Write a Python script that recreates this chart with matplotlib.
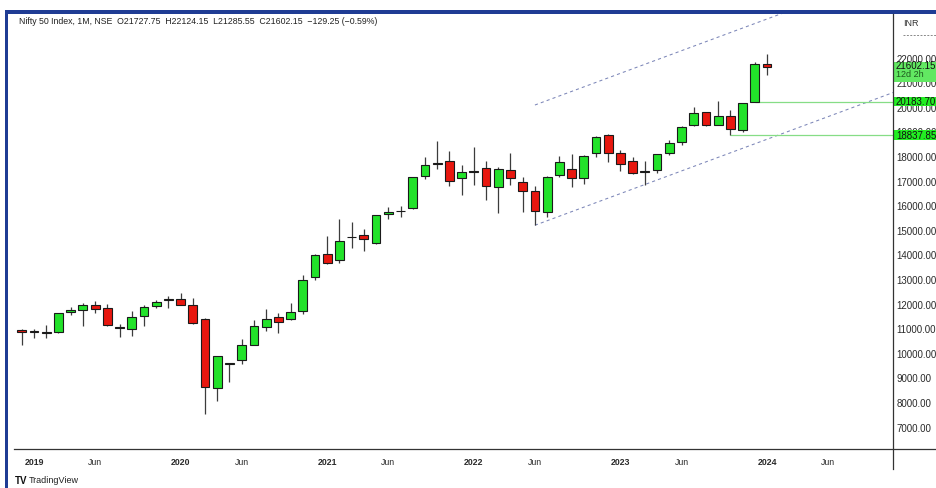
import numpy as np
import matplotlib
matplotlib.use('Agg')
import matplotlib.pyplot as plt
from matplotlib.patches import Rectangle
from matplotlib.lines import Line2D
import matplotlib.transforms as mtransforms

plt.rcParams['font.family'] = ['Liberation Sans', 'DejaVu Sans']

# monthly candles, Dec 2018 .. Jan 2024 (index 0 = Dec 2018)
months = ['2018-12',
          '2019-01', '2019-02', '2019-03', '2019-04', '2019-05', '2019-06',
          '2019-07', '2019-08', '2019-09', '2019-10', '2019-11', '2019-12',
          '2020-01', '2020-02', '2020-03', '2020-04', '2020-05', '2020-06',
          '2020-07', '2020-08', '2020-09', '2020-10', '2020-11', '2020-12',
          '2021-01', '2021-02', '2021-03', '2021-04', '2021-05', '2021-06',
          '2021-07', '2021-08', '2021-09', '2021-10', '2021-11', '2021-12',
          '2022-01', '2022-02', '2022-03', '2022-04', '2022-05', '2022-06',
          '2022-07', '2022-08', '2022-09', '2022-10', '2022-11', '2022-12',
          '2023-01', '2023-02', '2023-03', '2023-04', '2023-05', '2023-06',
          '2023-07', '2023-08', '2023-09', '2023-10', '2023-11', '2023-12',
          '2024-01']
opens = [10930.70,
         10881.70, 10851.35, 10842.65, 11665.20, 11725.55, 11953.75,
         11839.90, 11060.20, 10960.95, 11515.40, 11886.60, 12137.05,
         12202.15, 11939.00, 11387.35, 8584.10, 9533.50, 9726.85,
         10323.80, 11057.55, 11464.30, 11364.45, 11697.35, 13062.20,
         14018.50, 13758.60, 14702.50, 14798.40, 14481.05, 15629.65,
         15755.05, 15874.90, 17185.60, 17699.60, 17783.15, 17104.40,
         17387.15, 17529.45, 16723.20, 17436.90, 16924.45, 16594.40,
         15703.70, 17243.20, 17485.70, 17102.10, 18130.70, 18871.95,
         18131.70, 17811.60, 17360.10, 17427.95, 18124.80, 18579.40,
         19246.50, 19784.00, 19258.15, 19622.40, 19064.05, 20194.10,
         21727.75]
highs = [10985.15,
         10987.45, 11118.10, 11630.35, 11856.15, 12041.15, 12103.05,
         11981.75, 11181.45, 11694.85, 11945.00, 12158.80, 12293.90,
         12430.50, 12246.70, 11433.00, 9889.05, 9598.85, 10553.15,
         11341.40, 11794.25, 11618.10, 12025.45, 13145.85, 14024.85,
         14753.55, 15431.75, 15336.30, 15044.35, 15606.35, 15915.65,
         15962.25, 17153.50, 17947.65, 18604.45, 18210.15, 17639.50,
         18350.95, 17794.60, 17559.80, 18114.65, 17132.85, 16793.85,
         17172.80, 17992.20, 18096.15, 18022.80, 18816.05, 18887.60,
         18251.95, 17972.20, 17799.95, 18089.15, 18662.45, 19201.70,
         19991.85, 19795.60, 20222.45, 19849.75, 20158.70, 21801.45,
         22124.15]
lows = [10333.85,
        10583.65, 10585.65, 10817.40, 11549.10, 11108.30, 11625.10,
        11106.55, 10637.15, 10670.25, 11090.15, 11802.65, 11832.30,
        11929.60, 11175.05, 7511.10, 8055.80, 8806.75, 9544.35,
        10299.60, 10882.25, 10790.20, 11347.05, 11557.40, 12962.80,
        13596.75, 13661.75, 14264.40, 14151.40, 14416.25, 15450.90,
        15513.45, 15834.65, 17055.05, 17452.90, 16782.40, 16410.20,
        16836.80, 16203.25, 15671.45, 16824.70, 15735.75, 15183.40,
        15511.05, 17154.80, 16747.70, 16855.55, 17959.20, 17774.25,
        17405.55, 17255.20, 16828.35, 17312.75, 18042.40, 18464.55,
        19234.40, 19223.65, 19255.70, 18837.85, 18973.70, 20183.70,
        21285.55]
closes = [10862.55,
          10830.95, 10792.50, 11623.90, 11748.15, 11922.80, 11788.85,
          11118.00, 11023.25, 11474.45, 11877.45, 12056.05, 12168.45,
          11962.10, 11201.75, 8597.75, 9859.90, 9580.30, 10302.10,
          11073.45, 11387.50, 11247.55, 11642.40, 12968.95, 13981.75,
          13634.60, 14529.15, 14690.70, 14631.10, 15582.80, 15721.50,
          15763.05, 17132.20, 17618.15, 17671.65, 16983.20, 17354.05,
          17339.85, 16793.90, 17464.75, 17102.55, 16584.55, 15780.25,
          17158.25, 17759.30, 17094.35, 18012.20, 18758.35, 18105.30,
          17662.15, 17303.95, 17359.75, 18065.00, 18534.40, 19189.05,
          19753.80, 19253.80, 19638.30, 19079.60, 20133.30, 21731.40,
          21602.15]

price_ticks = list(range(7000, 23000, 1000))
time_ticks = [('2019', 2019, 1), ('Jun', 2019, 6), ('2020', 2020, 1), ('Jun', 2020, 6),
              ('2021', 2021, 1), ('Jun', 2021, 6), ('2022', 2022, 1), ('Jun', 2022, 6),
              ('2023', 2023, 1), ('Jun', 2023, 6), ('2024', 2024, 1), ('Jun', 2024, 6)]

# channel drawn from the Jun 2022 low, plus support levels
chan_start = 42
chan_end = 71.5
chan_low0 = 15183.40
chan_high0 = 20071.0
chan_slope = 184.0
level_dec = 20183.70
level_oct = 18837.85
title = 'Nifty 50 Index, 1M, NSE  O21727.75  H22124.15  L21285.55  C21602.15  \u2212129.25 (\u22120.59%)'

W, H = 937, 489
def fx(px):
    return px / W
def fy(py):
    return 1 - py / H

def month_idx(year, month):
    return (year - 2018) * 12 + month - 12

fig = plt.figure(figsize=(W / 100, H / 100), dpi=100)
fig.patch.set_facecolor('white')
ax = fig.add_axes([fx(8), fy(450), fx(893) - fx(8), fy(15) - fy(450)])
ax.set_xlim(-1.13, 71.31)
ax.set_ylim(6090, 23770)
for s in ax.spines.values():
    s.set_visible(False)

green = '#22e22a'
red = '#e8170f'
x = np.arange(len(months))
o = np.array(opens); h = np.array(highs); l = np.array(lows); c = np.array(closes)
up = c >= o
ax.vlines(x, l, h, color='#3c3c3c', lw=0.9, zorder=2)
body = np.maximum(np.abs(c - o), 25)
ax.bar(x, body, bottom=np.minimum(o, c), width=0.72,
       color=np.where(up, green, red), edgecolor='#1a1a1a', linewidth=0.8, zorder=3)

# channel
xs = np.array([chan_start, chan_end])
dash = dict(color='#7c86b8', lw=0.75, ls=(0, (3, 3)), zorder=1)
ax.plot(xs, chan_low0 + chan_slope * (xs - chan_start), **dash)
ax.plot(xs, chan_high0 + chan_slope * (xs - chan_start), **dash)

# support lines
ax.hlines(level_dec, 60, 71.31, color='#86dd86', lw=0.9, zorder=1)
ax.hlines(level_oct, 58, 71.31, color='#86dd86', lw=0.9, zorder=1)

# price axis
ax.yaxis.tick_right()
ax.set_yticks(price_ticks)
ax.set_yticklabels(['%.2f' % v for v in price_ticks])
ax.tick_params(axis='y', length=0, pad=2.5, labelsize=7, labelcolor='#2a2a2a')

# time axis
ax.set_xticks([month_idx(yy, mm) for _, yy, mm in time_ticks])
ax.set_xticklabels([t for t, _, _ in time_ticks])
ax.tick_params(axis='x', length=0, pad=6, labelsize=6.3, labelcolor='#2a2a2a')
for lab in ax.get_xticklabels():
    if lab.get_text() != 'Jun':
        lab.set_fontweight('bold')

# price labels on the axis
bt = mtransforms.blended_transform_factory(ax.transAxes, ax.transData)
bw = 46 / 885
def price_box(y0, y1, fc):
    ax.add_patch(Rectangle((1.0, y0), bw, y1 - y0, transform=bt, facecolor=fc,
                           edgecolor='none', clip_on=False, zorder=5))
price_box(21006, 21831, '#62e862')
ax.text(1 + 3 / 885, 21680, '21602.15', transform=bt, fontsize=7, va='center', color='#111', clip_on=False, zorder=6)
ax.text(1 + 3 / 885, 21340, '12d 2h', transform=bt, fontsize=6.5, va='center', color='#1d5a1d', clip_on=False, zorder=6)
price_box(20042, 20408, '#22ee22')
ax.text(1 + 3 / 885, 20220, '20183.70', transform=bt, fontsize=7, va='center', color='#111', clip_on=False, zorder=6)
price_box(18660, 19055, '#22ee22')
ax.text(1 + 3 / 885, 18857, '18837.85', transform=bt, fontsize=7, va='center', color='#111', clip_on=False, zorder=6)
ax.plot([1 + 10 / 885, 1 + 44 / 885], [22916, 22916], transform=bt, color='#888', lw=0.7,
        ls=(0, (2, 1.5)), clip_on=False)
fig.text(fx(903), fy(23), 'INR', fontsize=6.5, color='#333', va='center')

# frame lines and border bars
fig.add_artist(Line2D([fx(14), 1], [fy(450), fy(450)], color='#333', lw=0.9))
fig.add_artist(Line2D([fx(893), fx(893)], [fy(15), fy(470)], color='#333', lw=0.9))
fig.add_artist(Rectangle((fx(5), 0), fx(3), fy(11), facecolor='#1f3c94', edgecolor='none'))
fig.add_artist(Rectangle((fx(5), fy(15)), 1, fy(11) - fy(15), facecolor='#1f3c94', edgecolor='none'))

fig.text(fx(19), fy(21), title, fontsize=6.3, color='#222', va='center')
fig.text(fx(15), fy(481), 'TV', fontsize=7, fontweight='bold', color='#111', va='center')
fig.text(fx(29), fy(481), 'TradingView', fontsize=6.5, color='#222', va='center')

fig.savefig('out.png', dpi=100)
